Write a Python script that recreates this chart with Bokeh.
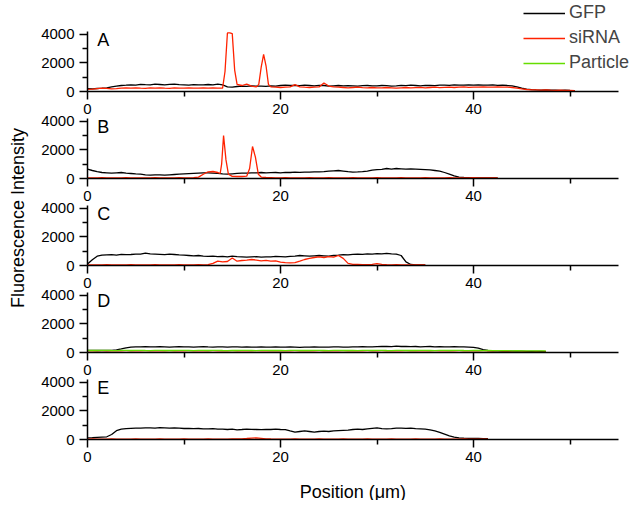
import numpy as np
from bokeh.plotting import figure
from bokeh.models import Range1d, LinearAxis, FixedTicker, Legend, LegendItem, Label, Grid
from bokeh.embed import file_html
from bokeh.resources import INLINE
from bokeh.core.properties import value

FONT = "Liberation Sans"
panels = ["A", "B", "C", "D", "E"]
x_ticks = [0, 20, 40]
x_minor = [10, 30, 50]
y_ticks = [0, 2000, 4000]
y_minor = [1000, 3000]
series_names = ["GFP", "siRNA", "Particle"]
STEP = 0.5  # sampling step of the profiles (µm)

# ---- Panel A ----
gfp_a = [200, 180, 210, 230, 260, 330, 380, 420, 440, 470,
         450, 500, 480, 470, 510, 490, 460, 500, 520, 480,
         470, 450, 480, 460, 470, 490, 460, 520, 470, 330,
         300, 350, 380, 360, 390, 370, 380, 360, 400, 380,
         420, 440, 420, 430, 410, 440, 420, 400, 430, 420,
         380, 400, 420, 390, 410, 400, 380, 410, 420, 390,
         400, 420, 410, 380, 400, 430, 410, 440, 420, 400,
         430, 420, 410, 440, 450, 430, 460, 440, 450, 470,
         440, 460, 450, 440, 460, 430, 450, 420, 400, 330,
         240, 170, 130, 110, 100, 110, 90, 100, 80, 90,
         70, 60]
sirna_a_x = list(np.r_[np.arange(0, 14.01, 0.5),
                       [14.25, 14.5, 14.75, 15.0, 15.25, 15.5],
                       np.arange(16, 17.51, 0.5),
                       [17.75, 18.0, 18.25, 18.5, 18.75],
                       np.arange(19, 50.51, 0.5)])
sirna_a = [150, 160, 200, 230, 220, 180, 200, 230, 250, 240,
           260, 230, 220, 250, 240, 260, 230, 220, 250, 240,
           230, 250, 240, 230, 260, 240, 250, 230, 240,
           1400, 4100, 4100, 4050, 1500, 500,
           420, 520, 380, 320,
           500, 1700, 2600, 1800, 500,
           320, 300, 280, 300, 320, 480, 330, 300, 280, 300,
           320, 600, 380, 320, 300, 280, 260, 280, 300, 270,
           250, 280, 260, 250, 280, 260, 240, 260, 280, 250,
           270, 290, 260, 280, 300, 270, 290, 310, 280, 300,
           320, 290, 310, 300, 330, 310, 300, 320, 300, 310,
           280, 230, 180, 140, 120, 110, 100, 110, 90, 80,
           100, 80, 70, 60]

# ---- Panel B ----
gfp_b = [650, 560, 480, 420, 400, 380, 400, 420, 380, 350,
         320, 300, 260, 240, 260, 250, 230, 260, 280, 300,
         320, 340, 360, 380, 400, 390, 380, 360, 320, 300,
         330, 360, 380, 370, 400, 390, 420, 400, 410, 420,
         400, 430, 420, 440, 430, 450, 440, 470, 460, 480,
         520, 540, 560, 520, 480, 450, 460, 480, 520, 580,
         620, 640, 700, 660, 700, 680, 650, 680, 660, 640,
         620, 600, 560, 520, 420, 300, 180, 100, 70, 60,
         50, 50, 40, 50, 40, 40]
sirna_b_x = list(np.r_[np.arange(0, 11.01, 0.5),
                       [11.5, 12, 12.5, 13, 13.5, 13.75, 13.9, 14.1, 14.35, 14.6,
                        15, 15.5, 16, 16.5, 16.8, 17.1, 17.4, 17.7, 18, 18.5],
                       np.arange(19, 42.51, 0.5)])
sirna_b = [50, 40, 50, 60, 50, 40, 50, 50, 60, 40, 50, 50, 40, 50, 60, 50, 40, 50, 50, 60, 50, 40, 60,
           100, 300, 470, 490, 420, 350, 1000, 3000, 1300, 300,
           150, 140, 140, 160, 700, 2240, 1500, 300, 100, 70,
           60, 50, 50, 60, 50, 40, 50, 50, 60, 50, 40, 50, 60, 50, 50, 40, 50, 60, 50, 50, 40, 50, 60, 50,
           50, 40, 50, 60, 50, 50, 40, 50, 60, 50, 50, 40, 50, 60, 50, 50, 40, 50, 60, 50, 50, 40, 50, 40]

# ---- Panel C ----
gfp_c = [100, 400, 650, 720, 740, 760, 730, 780, 760, 770,
         800, 790, 860, 820, 800, 780, 760, 800, 770, 740,
         720, 700, 680, 700, 660, 640, 660, 620, 640, 600,
         650, 620, 600, 580, 600, 620, 590, 600, 610, 640,
         620, 600, 640, 660, 700, 680, 650, 680, 700, 680,
         660, 700, 720, 760, 740, 780, 800, 780, 820, 800,
         830, 810, 850, 820, 800, 700, 250, 70, 50, 40,
         40]
sirna_c = [50, 40, 50, 50, 60, 50, 40, 50, 50, 60, 50, 40, 50, 50, 60, 50, 40, 50, 50, 60,
           50, 40, 50, 60, 50, 60,
           150, 300, 250, 280, 520, 300, 350, 380, 420, 380,
           330, 360, 300, 320, 230, 200, 180, 200, 300, 420,
           500, 560, 600, 560, 620, 580, 700, 500, 150, 80,
           70, 60, 60, 80, 130, 80, 60, 50, 60, 50,
           50, 40, 50, 40, 40]

# ---- Panel D ----
gfp_d = [150, 150, 140, 150, 140, 150, 180, 250, 330, 380,
         400, 390, 410, 400, 390, 410, 400, 380, 400, 410,
         390, 400, 380, 400, 410, 390, 380, 400, 390, 380,
         400, 390, 380, 390, 370, 380, 400, 380, 370, 390,
         380, 370, 390, 380, 360, 380, 370, 390, 380, 370,
         380, 390, 400, 380, 370, 390, 400, 410, 400, 390,
         410, 420, 430, 410, 440, 420, 430, 410, 420, 400,
         410, 420, 400, 410, 390, 400, 410, 400, 390, 380,
         360, 300, 200, 140, 120, 110, 100, 100, 90, 100,
         90, 80, 80, 70, 70, 60]
sirna_d = [20, 25, 20, 15, 20, 25, 20, 20, 15, 20,
           25, 20, 15, 20, 20, 25, 20, 15, 20, 25,
           20, 15, 20, 25, 20, 20, 15, 20, 25, 20,
           15, 20, 20, 25, 20, 15, 20, 25, 20, 20,
           20, 25, 20, 15, 20, 20, 25, 20, 15, 20,
           25, 20, 20, 15, 20, 25, 20, 20, 15, 20,
           20, 15, 20, 25, 20, 20, 15, 20, 25, 20,
           20, 25, 15, 20, 20, 25, 20, 15, 20, 20,
           25, 20, 15, 20, 20, 15, 20, 25, 20, 15,
           20, 20, 15, 20, 15, 20]
particle_d = [140, 150, 140, 145, 150, 140, 135, 145, 150, 140,
              145, 150, 140, 135, 145, 150, 140, 145, 140, 150,
              145, 140, 135, 145, 150, 140, 145, 150, 140, 135,
              145, 140, 150, 145, 140, 135, 145, 150, 140, 145,
              140, 135, 145, 150, 140, 145, 140, 150, 145, 140,
              135, 145, 150, 140, 145, 140, 135, 145, 150, 140,
              145, 150, 140, 135, 145, 150, 140, 145, 140, 150,
              145, 140, 135, 145, 150, 140, 145, 150, 140, 135,
              140, 145, 135, 140, 130, 135, 125, 130, 120, 125,
              120, 115, 120, 110, 115, 110]

# ---- Panel E ----
gfp_e = [120, 130, 150, 170, 190, 350, 620, 720, 760, 780,
         790, 800, 820, 810, 800, 830, 820, 800, 810, 790,
         770, 780, 760, 770, 750, 740, 760, 730, 720, 700,
         720, 680, 700, 730, 710, 700, 690, 710, 700, 720,
         700, 690, 600, 520, 560, 600, 560, 520, 560, 580,
         560, 600, 620, 640, 660, 700, 720, 700, 740, 780,
         820, 760, 740, 760, 790, 800, 780, 800, 760, 740,
         720, 680, 600, 500, 380, 260, 160, 110, 90, 80,
         80, 70, 60, 60]
sirna_e = [30, 35, 30, 25, 30, 35, 30, 30, 25, 30,
           35, 30, 30, 25, 30, 35, 30, 30, 25, 30,
           35, 30, 30, 25, 30, 35, 30, 30, 25, 30,
           35, 40, 50, 70, 100, 110, 80, 50, 35, 30,
           30, 25, 30, 35, 30, 30, 25, 30, 35, 30,
           30, 25, 30, 35, 30, 30, 25, 30, 35, 30,
           30, 25, 30, 35, 30, 30, 25, 30, 35, 30,
           30, 25, 30, 35, 30, 30, 25, 30, 35, 30,
           30, 25, 30, 25]


def grid(n):
    return [i * STEP for i in range(n)]


COL = {"GFP": "#000000", "siRNA": "#ff2200", "Particle": "#66dd00"}

data = {
    "A": [("GFP", grid(len(gfp_a)), gfp_a), ("siRNA", sirna_a_x, sirna_a)],
    "B": [("GFP", grid(len(gfp_b)), gfp_b), ("siRNA", sirna_b_x, sirna_b)],
    "C": [("GFP", grid(len(gfp_c)), gfp_c), ("siRNA", grid(len(sirna_c)), sirna_c)],
    "D": [("GFP", grid(len(gfp_d)), gfp_d), ("siRNA", grid(len(sirna_d)), sirna_d),
          ("Particle", grid(len(particle_d)), particle_d)],
    "E": [("GFP", grid(len(gfp_e)), gfp_e), ("siRNA", grid(len(sirna_e)), sirna_e)],
}
for k, lst in data.items():
    for nm, xs, ys in lst:
        assert len(xs) == len(ys), (k, nm, len(xs), len(ys))

# ---- layout constants (pixels) ----
W, H = 632, 500
X0_PX = 87                 # pixel column of x = 0
PX_PER_UM = 9.65
X_AXIS_END = 55
PANEL0_ZERO_PX = 91        # pixel row of y = 0 in panel A
PANEL_H = 60               # pixel height of one panel
PITCH = 87                 # vertical distance between panels
Y_TOP = 4200
UPP = Y_TOP / PANEL_H      # data units per pixel

p = figure(width=W, height=H,
           x_range=Range1d(-X0_PX / PX_PER_UM, (W - X0_PX) / PX_PER_UM),
           y_range=Range1d(0, 1),
           x_axis_location=None, y_axis_location=None, toolbar_location=None,
           output_backend="svg", min_border=0, min_border_left=0, min_border_right=0,
           min_border_top=0, min_border_bottom=0)
p.outline_line_color = None
for g in p.select(type=Grid):
    g.visible = False

ranges = {}
for k, name in enumerate(panels):
    below = H - (PANEL0_ZERO_PX + k * PITCH)
    start = -below * UPP
    ranges[name] = Range1d(start, start + H * UPP)
p.extra_y_ranges = ranges

legend_renderers = {}
for name in panels:
    for nm, xs, ys in data[name]:
        r = p.line(xs, ys, y_range_name=name, line_color=COL[nm], line_width=1.3)
        legend_renderers.setdefault(nm, r)

    xa = LinearAxis(y_range_name=name, fixed_location=0, bounds=(0, X_AXIS_END),
                    ticker=FixedTicker(ticks=x_ticks, minor_ticks=x_minor))
    ya = LinearAxis(y_range_name=name, fixed_location=0, bounds=(0, Y_TOP),
                    ticker=FixedTicker(ticks=y_ticks, minor_ticks=y_minor))
    for ax in (xa, ya):
        ax.axis_line_width = 1.5
        ax.major_tick_line_width = 1.5
        ax.minor_tick_line_width = 1.5
        ax.major_tick_in = 0
        ax.minor_tick_in = 0
        ax.major_tick_out = 8
        ax.minor_tick_out = 5
        ax.major_label_text_font = FONT
        ax.major_label_text_font_size = "15px"
        ax.major_label_text_color = "black"
    xa.major_label_standoff = 4
    ya.major_label_standoff = 5
    p.add_layout(xa, "below")
    p.add_layout(ya, "left")

    p.text(x=[1.0], y=[3600], text=[name], y_range_name=name,
           text_font=value(FONT), text_font_size="18px",
           text_baseline="middle", text_align="left", text_color="black")

legend = Legend(items=[LegendItem(label=nm, renderers=[legend_renderers[nm]]) for nm in series_names],
                location=(523, H - 73), orientation="vertical",
                glyph_width=42, glyph_height=20, label_height=20, label_standoff=4,
                spacing=4, padding=0, margin=0, border_line_color=None,
                background_fill_alpha=0, label_text_font=FONT, label_text_font_size="18px")
p.add_layout(legend)

p.add_layout(Label(x=-7.25, y=3325, y_range_name="C", text="Fluorescence Intensity",
                   angle=np.pi / 2, text_align="center", text_baseline="middle",
                   text_font=FONT, text_font_size="18px", text_color="black"))
p.add_layout(Label(x=27.5, y=-52 * UPP, y_range_name="E", text="Position (\u03bcm)",
                   text_align="center", text_baseline="middle",
                   text_font=FONT, text_font_size="18px", text_color="black"))

open("out.html", "w").write(file_html(p, INLINE))
